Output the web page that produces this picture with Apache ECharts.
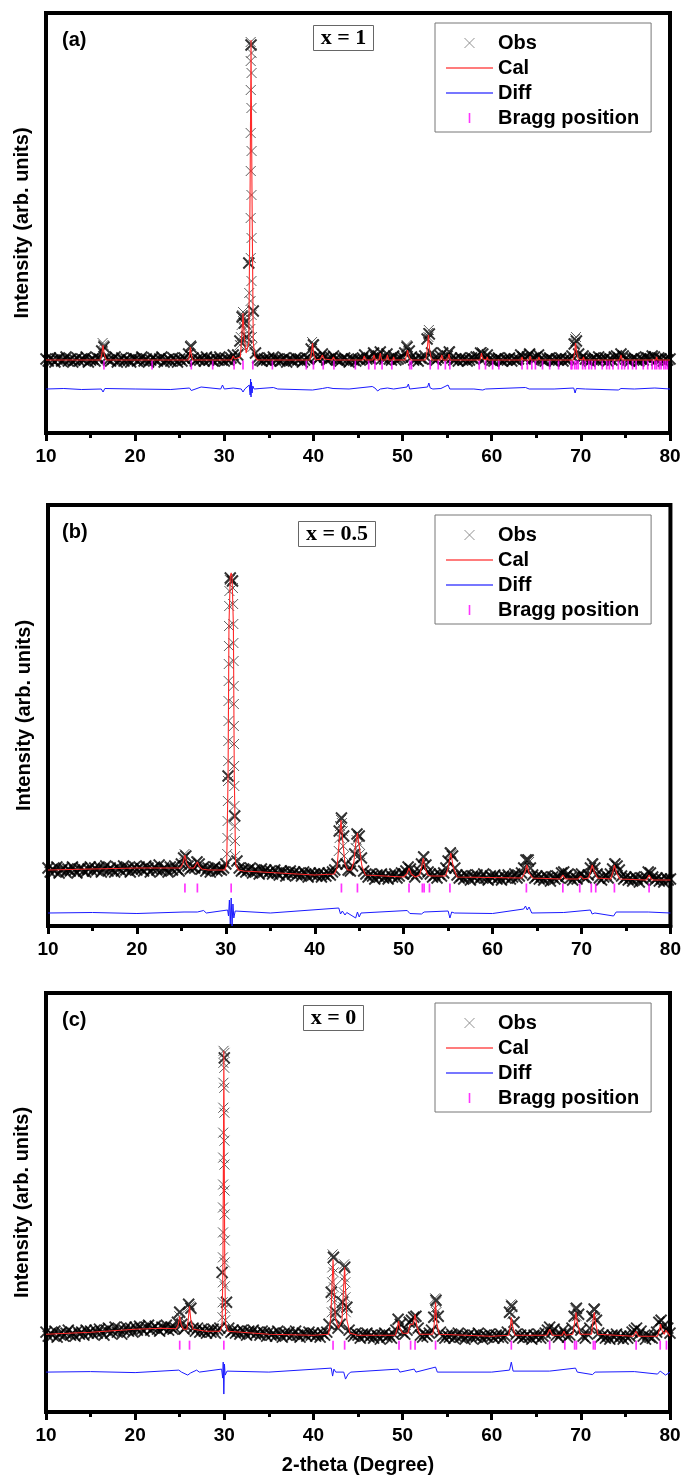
<!DOCTYPE html>
<html><head><meta charset="utf-8">
<script src="https://cdn.jsdelivr.net/npm/echarts@6/dist/echarts.min.js"></script>
<style>html,body{margin:0;padding:0;background:#fff}#c{width:684px;height:1476px}</style>
</head><body><div id="c"></div>
<script>
// ---------------- data ----------------
const xMin = 10, xMax = 80, xInterval = 10;
const panelLabels = ['(a)', '(b)', '(c)'];
const compLabels = ['x = 1', 'x = 0.5', 'x = 0'];
const legendNames = ['Obs', 'Cal', 'Diff', 'Bragg position'];
const yTitle = 'Intensity (arb. units)';
const xTitle = '2-theta (Degree)';
const obsStart = 10, obsStep = 0.25;

// Observed intensities sampled every 0.25 deg from 10 deg (rows of 5 deg)
const obsA = [
 74,72,75,73,71,74,75,72,73,76,72,74,71,73,75,72,74,73,76,71,
 73,74,72,75,74,82,86,75,73,72,74,76,71,73,75,72,74,73,71,75,
 74,72,73,76,72,74,71,73,75,73,72,74,76,71,73,74,72,75,73,71,
 74,72,75,73,79,86,75,72,74,73,75,72,76,73,74,72,75,73,76,73,
 72,74,73,75,78,74,78,92,116,110,96,170,388,122,80,75,73,72,74,73,
 75,72,76,73,74,72,73,75,71,74,73,72,75,73,74,71,73,75,74,84,
 88,76,74,76,79,76,73,74,75,77,74,73,72,74,75,73,71,74,73,72,
 74,73,75,78,74,75,74,80,76,77,81,75,74,79,74,73,77,73,74,75,
 76,80,86,82,76,73,74,72,75,74,77,94,99,80,74,73,75,77,80,75,
 77,81,75,73,74,72,75,73,74,72,73,75,74,76,76,80,79,75,78,74,
 73,72,74,75,73,72,74,73,75,72,74,73,74,78,76,74,76,79,74,75,
 76,78,74,73,72,74,75,73,72,74,73,75,72,74,73,74,77,89,92,79,
 74,77,74,73,72,74,75,73,76,74,73,75,72,74,73,76,77,75,79,77,
 74,73,72,74,75,73,72,74,73,76,75,74,77,76,73,75,74,72,74,73,
 74];
const obsB = [
 58,54,57,55,59,53,56,58,54,57,55,59,56,53,57,58,55,54,57,59,
 55,58,56,59,54,57,60,55,58,56,54,59,57,55,60,56,58,54,57,59,
 56,59,57,55,60,58,54,57,59,56,61,55,58,57,54,59,56,60,57,55,
 62,68,70,60,57,59,58,64,62,57,59,55,58,54,57,59,55,57,56,58,
 62,150,348,345,110,65,58,55,57,54,56,58,53,56,55,52,57,54,56,53,
 55,52,56,53,51,55,54,50,53,55,52,54,51,53,50,54,52,49,53,51,
 52,50,53,49,52,50,53,51,54,56,62,95,108,90,62,56,55,60,72,92,
 90,68,55,52,49,52,50,47,51,49,52,48,50,47,51,49,52,48,50,53,
 52,55,59,57,52,49,52,55,62,69,61,54,52,49,51,48,52,50,53,58,
 65,73,70,58,51,48,50,47,51,49,46,50,48,51,47,49,52,48,46,50,
 48,51,47,49,46,50,48,51,47,49,52,48,50,53,58,66,66,58,51,48,
 50,47,49,46,50,48,45,49,47,50,48,53,54,50,52,48,46,49,47,51,
 52,49,48,51,58,62,58,52,48,46,49,51,48,52,57,62,60,56,50,47,
 49,46,48,45,49,47,44,48,46,49,54,53,49,46,48,45,47,44,48,46,
 47];
const obsC = [
 80,76,79,77,81,75,78,80,76,79,82,77,79,76,81,78,80,77,82,79,
 81,78,82,79,83,80,77,82,84,79,81,85,80,83,78,82,85,81,84,80,
 85,82,86,83,81,85,87,82,84,86,83,81,85,84,87,82,85,83,84,90,
 100,88,83,86,108,104,84,81,84,80,83,81,79,82,80,83,79,82,84,140,
 355,110,84,80,82,79,81,78,82,80,77,81,79,82,78,80,77,81,79,76,
 80,77,79,76,81,78,75,79,77,80,76,78,81,77,75,79,78,76,80,77,
 79,76,78,75,79,77,80,88,120,155,100,84,88,110,145,105,82,78,76,79,
 77,74,78,76,79,75,77,74,78,76,73,77,79,75,77,74,78,82,93,88,
 80,78,82,90,92,95,96,84,77,75,78,76,79,82,95,112,96,80,76,74,
 77,75,78,74,76,79,75,77,73,76,78,74,77,75,79,76,73,77,75,78,
 76,74,77,75,78,74,76,80,100,106,90,78,75,77,74,76,78,75,73,77,
 75,78,74,76,79,82,85,80,83,77,75,78,82,79,75,77,84,96,104,98,
 82,76,74,78,84,96,103,92,79,75,77,74,76,73,77,75,78,74,76,73,
 77,74,76,80,82,84,78,81,76,73,77,75,74,77,80,90,92,86,82,84,
 79];

// Extra observed points on the steep peak flanks [2theta, intensity]
const obsPeakA = [
 [32.96,391],[33.06,380],[32.96,372],[33.06,360],[32.97,343],[33.05,325],[32.96,300],[33.06,282],
 [32.97,262],[33.05,238],[32.96,215],[33.06,195],[32.97,175],[33.05,152],[32.95,132],[33.07,118],
 [32.92,104],[33.1,96],[32.88,88],[33.15,86],
 [31.85,96],[31.95,108],[32.02,118],[32.1,121],[32.18,114],[32.25,104],[32.35,92],[31.75,88],
 [32.6,88],[32.7,110],[32.8,140],
 [16.35,90],[16.45,88],[26.15,87],[26.25,88],[39.85,91],[39.95,89],[52.85,100],[52.95,103],
 [52.9,96],[69.35,94],[69.45,96],[69.4,90],[50.45,88],[50.55,86],[54.45,80],[55.2,82],[58.9,81]];
const obsPeakB = [
 [30.45,346],[30.75,346],[30.4,335],[30.8,338],[30.38,320],[30.82,322],[30.36,300],[30.84,302],
 [30.35,280],[30.85,283],[30.33,262],[30.87,265],[30.32,245],[30.88,240],[30.3,225],[30.9,222],
 [30.3,205],[30.9,200],[30.28,185],[30.92,182],[30.27,165],[30.93,160],[30.25,145],[30.95,140],
 [30.23,125],[30.97,120],[30.2,105],[31.0,100],[30.18,88],[31.02,85],[30.15,72],[31.05,70],
 [42.85,100],[42.95,106],[43.05,103],[43.15,95],[42.8,88],[43.2,80],[42.7,75],[43.3,70],
 [44.7,86],[44.8,92],[44.9,89],[44.6,78],[45.0,82],[45.1,72],
 [25.35,72],[25.45,70],[26.8,65],[52.2,70],[55.3,74],[55.4,72],[63.9,67],[64.1,64],[71.2,63],[73.8,63]];
const obsPeakC = [
 [29.92,362],[30.02,360],[29.9,350],[30.0,345],[29.9,330],[30.0,325],[29.89,305],[30.01,300],
 [29.88,280],[30.02,272],[29.88,255],[30.02,248],[29.87,228],[30.03,222],[29.86,205],[30.04,198],
 [29.86,180],[30.05,172],[29.85,155],[30.05,150],[29.84,130],[30.06,126],[29.82,110],[30.08,104],
 [29.8,95],[30.1,92],
 [42.15,158],[42.25,156],[42.12,145],[42.28,140],[42.1,130],[42.3,125],[42.08,115],[42.32,110],
 [42.05,100],[42.35,95],
 [43.45,148],[43.55,146],[43.42,135],[43.58,130],[43.4,120],[43.6,115],[43.37,105],[43.63,100],
 [53.65,114],[53.75,110],[53.62,104],[53.78,100],[62.15,108],[62.25,106],[62.1,100],[62.3,98],
 [69.35,104],[69.45,102],[69.3,96],[69.55,96],[71.45,104],[71.55,102],[71.4,96],[71.6,95],
 [26.05,108],[26.15,106],[25.0,101],[24.95,96]];

// Calculated profile [2theta, intensity]
const calA = [
 [10,73],[16.1,73],[16.25,78],[16.4,88],[16.55,78],[16.75,73],[26.0,73],[26.1,78],[26.2,86],[26.3,78],
 [26.45,73],[27.9,73],[28.0,75],[28.1,73],[29.4,73],[29.5,75],[29.6,73],[30.8,73],[31.0,77],[31.2,74],
 [31.8,76],[31.95,95],[32.1,120],[32.25,95],[32.45,80],[32.75,90],[32.9,250],[33.0,393],[33.1,250],
 [33.25,90],[33.45,76],[33.7,73],[35.4,73],[35.5,75],[35.6,73],[39.6,73],[39.75,78],[39.9,90],[40.05,78],
 [40.25,73],[40.8,74],[41.0,78],[41.2,74],[42.1,73],[42.25,76],[42.4,73],[45.55,73],[45.7,77],[45.85,73],
 [46.65,73],[46.8,78],[46.95,73],[47.35,73],[47.5,80],[47.65,73],[48.15,73],[48.3,78],[48.45,73],
 [48.9,73],[49.0,76],[49.1,73],[50.3,73],[50.45,78],[50.55,83],[50.7,77],[50.9,73],[52.6,73],[52.75,82],
 [52.9,98],[53.05,82],[53.25,73],[54.25,73],[54.4,78],[54.55,73],[55.05,73],[55.2,79],[55.35,73],
 [58.7,73],[58.85,80],[59.0,74],[59.4,73],[59.5,76],[59.6,73],[63.3,73],[63.4,76],[63.5,73],[64.2,73],
 [64.3,77],[64.4,73],[65.2,73],[65.3,76],[65.4,73],[69.15,73],[69.3,80],[69.4,90],[69.55,80],[69.7,74],
 [70.2,73],[70.3,76],[70.4,73],[72.2,73],[72.3,75],[72.4,73],[74.35,73],[74.5,78],[74.65,73],[78.4,73],
 [78.5,76],[78.6,73],[80,73]];
const calB = [
 [10,56],[15,57],[20,58],[24,58],[24.9,58],[25.15,62],[25.4,71],[25.6,62],[25.9,58],[26.4,58],[26.6,60],
 [26.8,64],[27.0,60],[27.3,57],[28,56],[29.9,56],[30.1,62],[30.25,150],[30.35,300],[30.5,350],[30.6,353],
 [30.7,350],[30.85,300],[30.95,150],[31.1,62],[31.4,56],[32,55],[36,53],[40,51],[42.2,52],[42.5,58],
 [42.75,85],[42.95,106],[43.15,85],[43.4,62],[43.7,56],[44.1,56],[44.4,64],[44.6,82],[44.8,93],[45.0,80],
 [45.3,60],[45.7,51],[50.0,49],[50.35,52],[50.6,58],[50.85,52],[51.3,49],[51.8,51],[52.0,58],[52.2,68],
 [52.4,58],[52.7,51],[53.0,50],[54.7,50],[55.0,58],[55.3,73],[55.6,58],[56.0,49],[63.3,48],[63.6,53],
 [63.85,61],[64.1,53],[64.5,48],[67.6,47],[67.9,51],[68.2,47],[69.6,47],[69.9,50],[70.2,47],[70.8,48],
 [71.0,54],[71.2,61],[71.45,54],[71.8,48],[73.3,47],[73.5,53],[73.7,61],[73.95,53],[74.3,47],[77.3,46],
 [77.6,51],[77.9,46],[80,46]];
const calC = [
 [10,78],[15,80],[20,83],[23,84],[24.6,83.5],[24.85,88],[25.0,96],[25.15,88],[25.4,83],[25.8,83],
 [25.95,92],[26.1,106],[26.25,92],[26.5,83],[28,81],[29.5,81],[29.75,86],[29.85,150],[29.95,362],
 [30.05,150],[30.15,88],[30.4,81],[35,78],[40,77],[41.7,78],[41.95,95],[42.2,153],[42.45,95],[42.8,84],
 [43.2,92],[43.5,145],[43.75,92],[44.1,79],[45,77],[49.2,77],[49.4,84],[49.55,91],[49.7,84],[50.0,79],
 [50.6,79],[50.85,88],[51.0,86],[51.2,88],[51.4,98],[51.6,86],[51.9,78],[53.4,78],[53.55,88],[53.7,110],
 [53.85,88],[54.1,78],[60,76],[61.9,77],[62.1,86],[62.2,95],[62.35,86],[62.6,77],[66.2,77],[66.5,83],
 [66.8,77],[67.9,77],[68.1,81],[68.3,77],[69.1,78],[69.3,90],[69.45,100],[69.6,90],[69.9,78],[71.2,78],
 [71.35,90],[71.5,100],[71.65,90],[71.9,78],[75.9,76],[76.2,81],[76.45,76],[78.6,76],[78.8,82],[78.95,88],
 [79.1,82],[79.35,78],[79.55,82],[79.7,80],[80,76]];

// Difference curve (offset) [2theta, intensity]
const diffA = [
 [10,44],[12,44.5],[14,43.5],[16.2,44],[16.4,41],[16.6,44.5],[20,44],[24,43.5],[26.1,45],[26.3,42.5],
 [26.5,44],[27.4,46],[27.6,44],[29.6,44],[29.8,48],[30.0,44],[31.0,45],[31.9,44],[32.1,41],[32.3,44],
 [32.8,48],[32.9,38],[32.95,54],[33.0,36],[33.05,51],[33.12,40],[33.2,47],[33.35,44],[34.0,44.5],
 [35.5,45.5],[36,44],[39.9,43],[40.1,45],[41.0,44.5],[41.6,45.5],[42.2,44.5],[44,44],[46.6,46.5],
 [46.9,45],[47.2,42],[47.5,44],[48.3,45],[49,44],[50.5,46],[50.65,49],[50.8,44],[52.8,46],[52.95,50],
 [53.1,45],[53.4,44],[54.3,44.5],[55.1,48],[55.3,44],[58,44],[59.0,43],[59.3,44],[63.8,45.5],[64.2,44],
 [67,44],[69.2,45],[69.35,40],[69.5,44.5],[70.5,44],[74.2,43],[74.5,44.5],[76,44],[78.3,45],[80,44]];
const diffB = [
 [10,13],[15,13.5],[20,12.5],[25.3,14],[25.5,12],[26.8,14],[27.5,15.5],[27.8,13],[30.2,16],[30.3,10],
 [30.4,26],[30.5,2],[30.6,28],[30.7,0],[30.8,22],[30.9,8],[31.05,15],[31.2,13],[35,13],[42.7,18],
 [42.9,12],[43.1,15],[43.4,11],[43.6,13.5],[44.6,8],[44.8,14],[45.0,9],[45.2,13],[50.4,15.5],[50.7,12.5],
 [52.0,12],[52.3,14],[55.0,15],[55.2,8],[55.4,14],[55.7,13],[60,12.5],[63.5,17],[63.7,20],[63.9,16],
 [64.1,19],[64.4,13],[68,13.5],[71.0,16],[71.2,12],[71.5,13],[73.6,10],[73.9,14],[77.5,14],[80,13]];
const diffC = [
 [10,40],[15,40.5],[20,39.5],[24.9,42],[25.2,40],[25.9,37],[26.2,39],[26.9,42],[27.2,40],[29.7,43],
 [29.82,34],[29.88,50],[29.95,18],[30.02,48],[30.1,37],[30.3,41],[30.5,40],[35,40],[42.0,44],[42.15,36],
 [42.3,43],[42.5,40],[43.4,40],[43.6,33],[43.9,38],[44.2,40],[49.5,43],[49.7,40],[51.3,43],[51.5,40],
 [53.7,45],[53.9,40],[60,40],[62.0,42],[62.2,50],[62.4,41],[62.6,40],[66.5,41],[69.4,44],[69.6,40],
 [71.3,37.5],[71.6,40],[76,40.5],[78.6,38],[78.9,41],[79.2,39],[79.5,37],[80,40]];

// Bragg reflection positions (2theta) and the level they are drawn at
const braggA = [16.5,21.9,26.3,28.7,31.1,32.1,33.2,35.4,39.2,40.0,41.1,42.3,44.7,46.2,46.9,47.7,48.8,
 50.8,51.0,53.1,54.0,54.8,55.3,58.6,59.3,60.1,60.8,63.4,64.0,64.5,64.9,65.7,66.5,67.5,68.9,69.0,69.3,
 69.5,69.7,70.2,70.5,70.9,71.2,71.6,72.4,72.9,73.2,73.6,74.2,74.6,74.9,75.3,75.8,76.2,77.0,77.5,78.0,
 78.3,78.5,78.8,79.0,79.3,79.5,79.7];
const braggB = [25.4,26.8,30.6,43.0,44.8,50.6,52.1,52.3,52.9,55.2,63.8,67.9,69.8,71.1,71.6,73.7,77.6];
const braggC = [25.0,26.1,29.95,42.2,43.5,49.6,50.9,51.4,53.7,62.2,66.5,68.2,69.3,69.5,71.4,71.6,76.2,78.9,79.6];
const braggLevel = [68, 38, 67];

// ---------------- chart ----------------
const obs = [obsA, obsB, obsC], obsPeak = [obsPeakA, obsPeakB, obsPeakC];
const cal = [calA, calB, calC], diff = [diffA, diffB, diffC], bragg = [braggA, braggB, braggC];

const gridTop = [13, 505, 993], gridLeft = [46, 48, 46];
const gridW = 624, gridH = [420, 421, 420];
const legendTop = [23, 515, 1003];
const boxLeft = [313, 298, 303], boxW = [60, 77, 60], boxTop = [25, 521, 1005];
const FONT = 'Liberation Sans';
const xSymbol = 'path://M0,0L10,10M10,0L0,10';
const lineIcon = 'path://M0,0L40,0L40,1.2L0,1.2Z';
const barIcon = 'path://M0,0L1.6,0L1.6,10L0,10Z';

const grids = [], xAxes = [], yAxes = [], series = [], legends = [], graphics = [];
for (let k = 0; k < 3; k++) {
  grids.push({ left: gridLeft[k], top: gridTop[k], width: gridW, height: gridH[k],
    show: true, borderColor: '#000', borderWidth: 4, backgroundColor: '#fff' });
  xAxes.push({ gridIndex: k, type: 'value', min: xMin, max: xMax, interval: xInterval,
    axisLine: { show: true, onZero: false, lineStyle: { color: '#000', width: 4 } },
    axisTick: { show: true, inside: false, length: 8, lineStyle: { color: '#000', width: 3 } },
    minorTick: { show: true, splitNumber: 2, length: 5, lineStyle: { color: '#000', width: 3 } },
    axisLabel: { color: '#000', fontFamily: FONT, fontWeight: 'bold', fontSize: 19, margin: 14 },
    splitLine: { show: false },
    name: k === 2 ? xTitle : '', nameLocation: 'middle', nameGap: 43,
    nameTextStyle: { color: '#000', fontFamily: FONT, fontWeight: 'bold', fontSize: 20 } });
  yAxes.push({ gridIndex: k, type: 'value', min: 0, max: gridH[k],
    axisLine: { show: false }, axisTick: { show: false }, axisLabel: { show: false }, splitLine: { show: false },
    name: yTitle, nameLocation: 'middle', nameGap: 14,
    nameTextStyle: { color: '#000', fontFamily: FONT, fontWeight: 'bold', fontSize: 20 } });

  const bandData = obs[k].map((v, i) => [obsStart + obsStep * i, v]);
  const peakData = obsPeak[k].map(p => ({ value: p, symbolSize: 10, itemStyle: { borderColor: '#333', borderWidth: 1 } }));
  series.push({ name: 'Obs', type: 'scatter', xAxisIndex: k, yAxisIndex: k, data: bandData.concat(peakData),
    symbol: xSymbol, symbolSize: 11, silent: true, z: 2,
    itemStyle: { color: 'rgba(0,0,0,0)', borderColor: '#000', borderWidth: 1.9 } });
  series.push({ name: 'Bragg position', type: 'scatter', xAxisIndex: k, yAxisIndex: k,
    data: bragg[k].map(x => [x, braggLevel[k]]), symbol: 'rect', symbolSize: [1.7, 9], silent: true, z: 3,
    itemStyle: { color: '#ff00ff' } });
  series.push({ name: 'Cal', type: 'line', xAxisIndex: k, yAxisIndex: k, data: cal[k],
    symbol: 'none', silent: true, z: 4, lineStyle: { color: '#ff2a2a', width: 1.1 }, itemStyle: { color: '#ff5050' } });
  series.push({ name: 'Diff', type: 'line', xAxisIndex: k, yAxisIndex: k, data: diff[k],
    symbol: 'none', silent: true, z: 4, lineStyle: { color: '#1a1aff', width: 1 }, itemStyle: { color: '#4a4aff' } });

  legends.push({ orient: 'vertical', left: 435, top: legendTop[k], padding: [10, 12, 4, 11],
    itemWidth: 47, itemHeight: 10, itemGap: 5, borderColor: '#777', borderWidth: 1, backgroundColor: '#fff',
    selectedMode: false, z: 10,
    textStyle: { color: '#000', fontFamily: FONT, fontWeight: 'bold', fontSize: 20 },
    data: [{ name: legendNames[0], icon: xSymbol, itemStyle: { color: 'rgba(0,0,0,0)', borderColor: '#777', borderWidth: 1 } },
           { name: legendNames[1], icon: lineIcon },
           { name: legendNames[2], icon: lineIcon },
           { name: legendNames[3], icon: barIcon, itemStyle: { color: '#ff00ff', borderWidth: 0 } }] });

  graphics.push({ type: 'text', left: 62, top: gridTop[k] + 17, z: 20,
    style: { text: panelLabels[k], font: 'bold 20px "Liberation Sans"', fill: '#000' } });
  graphics.push({ type: 'group', left: boxLeft[k], top: boxTop[k], z: 20, children: [
    { type: 'rect', shape: { x: 0.5, y: 0.5, width: boxW[k], height: 25 }, style: { fill: '#fff', stroke: '#666', lineWidth: 1 } },
    { type: 'text', x: boxW[k] / 2 + 0.5, y: 13.5, style: { text: compLabels[k], font: 'bold 22px "Liberation Serif"', fill: '#000', align: 'center', verticalAlign: 'middle' } }
  ] });
}

const chart = echarts.init(document.getElementById('c'), null, { renderer: 'canvas' });
chart.setOption({ animation: false, backgroundColor: '#fff', grid: grids, xAxis: xAxes, yAxis: yAxes,
  legend: legends, series: series, graphic: graphics });
</script></body></html>
